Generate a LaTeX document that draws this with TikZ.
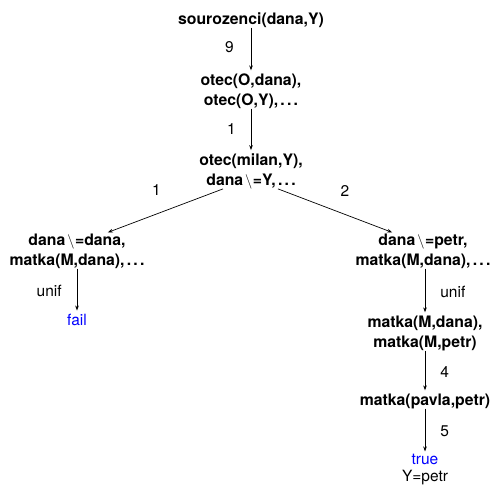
\documentclass[tikz,border=0pt]{standalone}
\usepackage{fontspec}
\setmainfont{TeX Gyre Heros}
\usetikzlibrary{arrows.meta}
\definecolor{resblue}{RGB}{0,0,255}
\newcommand{\neqsign}{\kern2pt$\backslash$\kern0.5pt=}
\newcommand{\moredots}{\kern0.14em.\kern0.14em.\kern0.14em.}
\begin{document}
\begin{tikzpicture}[x=1pt,y=-1pt,
  goal/.style={font=\fontsize{15.8}{20}\selectfont\bfseries, align=center, inner sep=0pt},
  result/.style={font=\fontsize{15.5}{17}\selectfont, align=center, inner sep=0pt},
  lbl/.style={font=\fontsize{15.5}{18}\selectfont, inner sep=0pt},
  resarrow/.style={draw, line width=0.7pt, -{Stealth[length=5pt,width=3.6pt]}, shorten >=3pt},
]
\useasboundingbox (0,0) rectangle (492,488);

% resolution tree
\node[goal] (root) at (251,20) {sourozenci(dana,Y)};
\node[goal] (n2) at (251,91) {otec(O,dana),\\otec(O,Y),\moredots};
\node[goal] (n3) at (251,171) {otec(milan,Y),\\dana\neqsign Y,\moredots};
\node[goal] (left) at (77,251) {dana\neqsign dana,\\matka(M,dana),\moredots};
\node[result, text=resblue] (fail) at (77,319.5) {fail};
\node[goal] (right) at (423,251) {dana\neqsign petr,\\matka(M,dana),\moredots};
\node[goal] (rm) at (425,333) {matka(M,dana),\\matka(M,petr)};
\node[goal] (pav) at (425,401) {matka(pavla,petr)};
\node[result] (true) at (425,470) {\textcolor{resblue}{true}\\Y=petr};

% derivation steps
\draw[resarrow] (root) -- node[lbl, left=17pt, yshift=3pt]{9} (n2);
\draw[resarrow] (n2) -- node[lbl, left=15pt, yshift=1.5pt]{1} (n3);
\draw[resarrow] ([xshift=-28pt]n3.south) -- node[lbl, xshift=-7.5pt, yshift=21pt]{1} ([xshift=28pt]left.north);
\draw[resarrow] ([xshift=27pt]n3.south) -- node[lbl, xshift=8.5pt, yshift=20.3pt]{2} ([xshift=-28pt]right.north);
\draw[resarrow] ([xshift=2pt]right.south) -- node[lbl, right=15pt]{unif} (rm);
\draw[resarrow] (left) -- node[lbl, left=15pt]{unif} (fail);
\draw[resarrow] (rm) -- node[lbl, right=15pt]{4} (pav);
\draw[resarrow] (pav) -- node[lbl, right=15pt]{5} (true);
\end{tikzpicture}
\end{document}
